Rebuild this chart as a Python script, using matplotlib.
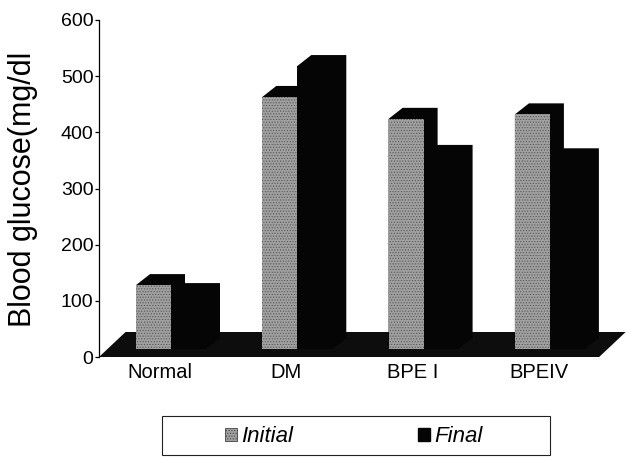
import matplotlib.pyplot as plt
from matplotlib.patches import Polygon, Rectangle, Patch

groups = ['Normal', 'DM', 'BPE I', 'BPEIV']
initial = [128, 463, 424, 432]
final = [112, 518, 358, 352]
yticks = [0, 100, 200, 300, 400, 500, 600]

plt.rcParams['font.family'] = ['Liberation Sans', 'DejaVu Sans']
plt.rcParams['hatch.color'] = '#555555'
plt.rcParams['hatch.linewidth'] = 0.5

W, H = 626, 457
fig = plt.figure(figsize=(W / 100, H / 100), dpi=100)
ax = fig.add_axes([99 / W, 100 / H, 527 / W, 337 / H])
xmin = -0.57
ax.set_xlim(xmin, xmin + 527 / 126.3)
ax.set_ylim(0, 600)

bw = 0.277              # bar width (one series)
dx, dy = 0.111, 19.6    # oblique depth of a bar
base = 14.2             # bars stand slightly behind the floor's front edge
fdx, fdy = 0.21, 44.5   # oblique depth of the floor
floor_end = 3.39

# dark floor slab
floor = Polygon([(xmin, 0), (floor_end, 0), (floor_end + fdx, fdy), (xmin + fdx, fdy)],
                closed=True, facecolor='#0d0d0d', edgecolor='none', clip_on=False, zorder=1)
ax.add_patch(floor)


def block(x0, v):
    # top + right side silhouette behind the front face
    x1 = x0 + bw
    pts = [(x0, base), (x0, v), (x0 + dx, v + dy), (x1 + dx, v + dy),
           (x1 + dx, base + dy), (x1, base)]
    ax.add_patch(Polygon(pts, closed=True, facecolor='#050505', edgecolor='none',
                         clip_on=False, zorder=2))


for i, (vi, vf) in enumerate(zip(initial, final)):
    block(i - bw, vi)
    block(i, vf)

x = list(range(len(groups)))
ax.bar([p - bw for p in x], [v - base for v in initial], bottom=base, width=bw,
       align='edge', color='#a0a0a0', hatch='......', edgecolor='#555555',
       linewidth=0, zorder=3)
ax.bar(x, [v - base for v in final], bottom=base, width=bw, align='edge',
       color='#050505', linewidth=0, zorder=3)

for s in ['top', 'right', 'bottom']:
    ax.spines[s].set_visible(False)
ax.spines['left'].set_linewidth(0.9)
ax.set_yticks(yticks)
ax.tick_params(axis='y', direction='out', length=3, width=0.9, pad=1, labelsize=14)
ax.set_xticks([p - 0.09 for p in x])
ax.set_xticklabels(groups)
ax.tick_params(axis='x', length=0, pad=4, labelsize=14.5)

fig.text(23 / W, 1 - 189 / H, 'Blood glucose(mg/dl', rotation=90,
         ha='center', va='center', fontsize=22)

# legend with a plain box
handles = [Patch(facecolor='#a0a0a0', hatch='......', edgecolor='#444444', linewidth=0.6),
           Patch(facecolor='#050505', edgecolor='#050505')]
fig.legend(handles, ['Initial', 'Final'], loc='center', ncol=2,
           bbox_to_anchor=(354 / W, 1 - 437 / H), frameon=False,
           prop={'style': 'italic', 'size': 16}, handlelength=0.55,
           handleheight=0.55, handletextpad=0.2, columnspacing=5.6)
fig.add_artist(Rectangle((162 / W, 2 / H), 388 / W, 39 / H, transform=fig.transFigure,
                         fill=False, edgecolor='#222222', linewidth=0.8))

fig.savefig('out.png', dpi=100)
